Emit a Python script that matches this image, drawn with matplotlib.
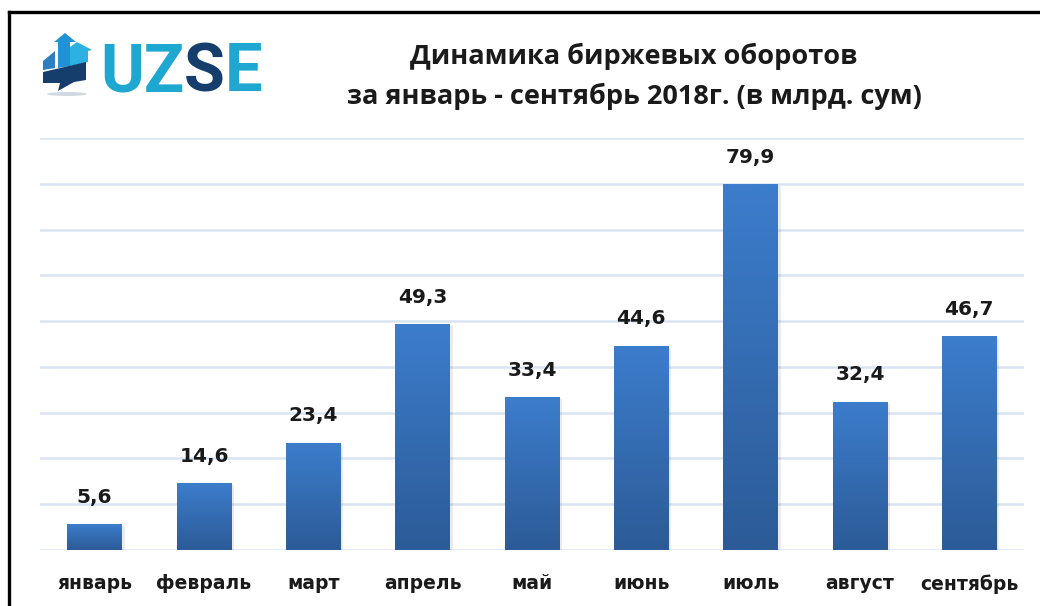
import numpy as np
import matplotlib
matplotlib.use("Agg")
import matplotlib.pyplot as plt
from matplotlib.patches import Polygon, Ellipse
from matplotlib.lines import Line2D
from matplotlib.colors import LinearSegmentedColormap

categories = ["январь", "февраль", "март", "апрель", "май", "июнь", "июль", "август", "сентябрь"]
values = [5.6, 14.6, 23.4, 49.3, 33.4, 44.6, 79.9, 32.4, 46.7]
value_labels = ["5,6", "14,6", "23,4", "49,3", "33,4", "44,6", "79,9", "32,4", "46,7"]
title_lines = ["Динамика биржевых оборотов", "за январь - сентябрь 2018г. (в млрд. сум)"]

W, H = 1040, 606
fig = plt.figure(figsize=(W / 100, H / 100), dpi=100)
fig.patch.set_facecolor("white")

def P(x, y):
    return (x / W, 1 - y / H)

ax = fig.add_axes([40 / W, 1 - 550 / H, (1024 - 40) / W, (550 - 138) / H])
ax.set_xlim(-0.5, len(categories) - 0.5)
ax.set_ylim(0, 90)
ax.set_yticks(np.arange(0, 91, 10))
ax.yaxis.grid(True, color="#d9e4f3", linewidth=1.8)
ax.set_axisbelow(True)
for s in ax.spines.values():
    s.set_visible(False)
ax.tick_params(axis="y", left=False, labelleft=False)
ax.tick_params(axis="x", bottom=False, pad=14)
x = np.arange(len(categories))
ax.set_xticks(x)
ax.set_xticklabels(categories, fontsize=13.5, fontweight="bold", color="#1a1a1a", family="DejaVu Sans")

cmap = LinearSegmentedColormap.from_list("g", ["#2c5b97", "#3c7dcc"])
grad = np.linspace(0, 1, 256).reshape(-1, 1)
bw = 0.5
bars = ax.bar(x, values, width=bw, color="none", edgecolor="none")
for b, v, lab in zip(bars, values, value_labels):
    x0 = b.get_x()
    ax.bar(b.get_x() + bw / 2 + 0.025, v, width=bw, bottom=-0.4, color="#000000", alpha=0.08, zorder=1.5)
    im = ax.imshow(grad, extent=[x0, x0 + bw, 0, v], origin="lower", cmap=cmap,
                   aspect="auto", zorder=2)
    im.set_clip_path(b)
    ax.text(b.get_x() + bw / 2, v + 5.9, lab, ha="center", va="center",
            fontsize=14.5, fontweight="bold", color="#1a1a1a", family="DejaVu Sans")
ax.set_xlim(-0.5, len(categories) - 0.5)
ax.set_ylim(0, 90)

# title
fig.text(*P(634, 56), title_lines[0], ha="center", va="center", fontsize=19.5,
         fontweight="bold", family="Open Sans", color="#1a1a1a")
fig.text(*P(634, 96), title_lines[1], ha="center", va="center", fontsize=19.5,
         fontweight="bold", family="Open Sans", color="#1a1a1a")

# logo text
LOGO_FS = 48
t_uz = fig.text(*P(100, 91), "UZ", ha="left", va="baseline", fontsize=LOGO_FS, fontweight="bold",
                family="Roboto", color="#1ea7d1")
fig.canvas.draw()
bb = t_uz.get_window_extent()
t_s = fig.text(bb.x1 / W, 1 - 91 / H, "S", ha="left", va="baseline", fontsize=LOGO_FS,
               fontweight="bold", family="Roboto", color="#163e6c")
fig.canvas.draw()
bb2 = t_s.get_window_extent()
fig.text(bb2.x1 / W, 1 - 91 / H, "E", ha="left", va="baseline", fontsize=LOGO_FS,
         fontweight="bold", family="Roboto", color="#1ea7d1")

# logo icon
def poly(pts, color):
    fig.patches.append(Polygon([P(a, b) for a, b in pts], closed=True, facecolor=color,
                               edgecolor="none", transform=fig.transFigure))

fig.patches.append(Ellipse(P(67, 94), 40 / W, 4 / H, facecolor="#cfd8e3", edgecolor="none",
                           transform=fig.transFigure))
poly([(70, 66), (70, 47), (77, 42), (92, 50), (88, 51), (88, 62)], "#2bb2e2")
poly([(43, 70), (43, 61), (55, 51), (55, 68)], "#2a80c2")
poly([(58, 68), (58, 42), (54, 42), (65, 33), (76, 42), (70, 42), (70, 66)], "#2192d6")
poly([(43, 72), (86, 62), (86, 80), (74, 82), (58, 91), (60, 83), (43, 83)], "#163e6c")

# border
fig.add_artist(Line2D([9 / W, 1], [1 - 12 / H, 1 - 12 / H], color="black", lw=2.4,
                      transform=fig.transFigure))
fig.add_artist(Line2D([9 / W, 9 / W], [0, 1 - 12 / H], color="black", lw=2.4,
                      transform=fig.transFigure))

fig.savefig("out.png", dpi=100, facecolor="white")
